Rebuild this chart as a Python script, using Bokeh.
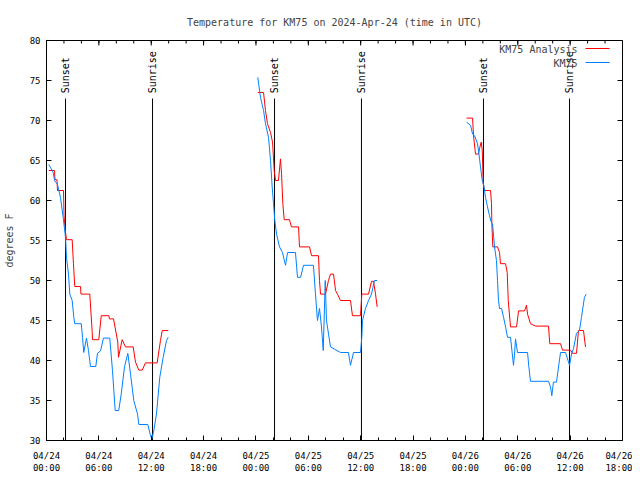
import math
from bokeh.plotting import figure
from bokeh.models import Range1d, FixedTicker, Label, Arrow
from bokeh.embed import file_html
from bokeh.resources import INLINE
from bokeh.core.properties import value

FONT = "DejaVu Sans Mono"
NAN = float("nan")

# ---- data (hours since 2024-04-24 00:00 UTC, degrees F) ----
analysis_h1 = [0.26, 0.92, 0.97, 1.20, 1.26, 1.95, 2.01, 2.18, 2.29, 2.94, 3.09, 3.24, 3.90, 3.95, 4.96, 5.24, 5.27, 5.99, 6.27, 7.14, 7.22, 7.68, 8.17, 8.25, 8.67, 9.05, 9.93, 10.20, 10.58, 10.97, 11.34, 12.68, 13.06, 13.26, 13.95]
analysis_t1 = [63.75, 63.75, 62.6, 62.6, 61.25, 61.25, 58.1, 56.0, 55.1, 55.1, 52.1, 49.25, 49.25, 48.3, 48.3, 43.5, 42.6, 42.6, 45.6, 45.6, 45.2, 45.2, 42.3, 40.4, 42.6, 41.7, 41.7, 39.8, 38.8, 38.8, 39.7, 39.7, 42.5, 43.75, 43.75]
analysis_h2 = [24.21, 24.87, 25.09, 25.32, 25.67, 25.90, 26.09, 26.24, 26.58, 26.81, 26.93, 27.08, 27.24, 27.84, 28.07, 28.88, 28.99, 30.14, 30.37, 31.17, 31.28, 31.40, 31.97, 32.31, 32.54, 32.89, 33.12, 33.34, 33.69, 34.83, 35.06, 35.98, 36.13, 36.90, 37.24, 37.47, 37.70, 37.89]
analysis_t2 = [73.5, 73.5, 71.25, 69.6, 68.5, 67.3, 63.75, 62.5, 62.5, 65.2, 63.4, 59.6, 57.6, 57.6, 56.7, 56.7, 54.2, 54.2, 53.1, 53.1, 50.0, 48.3, 48.3, 50.0, 50.8, 50.8, 48.75, 48.3, 47.5, 47.5, 45.6, 45.6, 48.3, 48.3, 49.9, 49.9, 48.3, 46.7]
analysis_h3 = [48.13, 48.82, 48.93, 49.16, 49.50, 49.62, 49.81, 49.93, 50.04, 50.19, 50.88, 50.99, 51.03, 51.14, 51.68, 51.91, 52.02, 52.60, 52.79, 52.91, 53.17, 53.86, 54.09, 54.77, 55.00, 55.12, 55.46, 56.03, 57.52, 57.67, 58.90, 59.13, 60.04, 60.27, 60.73, 60.96, 61.53, 61.76]
analysis_t3 = [70.3, 70.3, 68.1, 65.8, 65.8, 66.5, 67.3, 66.25, 62.1, 61.25, 61.25, 59.6, 57.1, 54.2, 54.2, 53.5, 52.1, 52.1, 51.0, 47.5, 44.2, 44.2, 46.2, 46.2, 46.9, 45.8, 44.6, 44.3, 44.3, 42.1, 42.1, 41.3, 41.3, 40.9, 40.9, 43.75, 43.75, 41.7]

obs_h1 = [0.26, 0.77, 0.92, 1.26, 1.60, 1.91, 2.18, 2.29, 2.52, 2.67, 2.94, 3.13, 3.24, 3.98, 4.13, 4.27, 4.58, 4.81, 5.04, 5.65, 5.84, 6.19, 6.53, 7.25, 7.56, 7.87, 8.28, 8.56, 8.94, 9.32, 9.63, 10.00, 10.43, 10.58, 11.61, 11.92, 12.07, 12.30, 12.60, 12.98, 13.37, 13.75, 13.95]
obs_t1 = [64.5, 63.5, 62.5, 62.0, 60.4, 57.9, 55.4, 52.9, 50.8, 48.3, 47.5, 45.4, 44.6, 44.6, 42.9, 41.0, 42.8, 41.25, 39.25, 39.25, 40.9, 41.2, 42.8, 42.8, 38.75, 33.75, 33.75, 35.8, 39.2, 40.9, 38.3, 35.0, 33.3, 32.0, 32.0, 30.6, 30.2, 31.25, 33.3, 37.9, 40.4, 42.5, 42.9]
obs_h2 = [24.21, 24.52, 24.87, 25.09, 25.44, 25.67, 25.86, 26.01, 26.16, 26.36, 26.70, 27.04, 27.39, 27.62, 28.53, 28.76, 29.11, 29.45, 30.59, 30.82, 31.05, 31.28, 31.51, 31.71, 31.94, 32.08, 32.54, 33.69, 34.60, 34.83, 35.18, 35.98, 36.13, 36.21, 36.55, 36.90, 37.24, 37.58, 37.89]
obs_t2 = [75.4, 72.9, 71.25, 69.6, 67.9, 65.0, 61.7, 59.6, 57.5, 55.8, 54.2, 53.5, 51.9, 53.5, 53.5, 50.4, 50.4, 51.9, 51.9, 48.3, 45.0, 46.5, 44.2, 41.25, 50.0, 45.0, 41.7, 41.0, 41.0, 39.4, 41.0, 41.0, 42.9, 45.0, 46.5, 47.5, 48.3, 50.0, 50.0]
obs_h3 = [48.13, 48.59, 48.82, 49.05, 49.39, 49.62, 49.73, 49.93, 50.11, 50.30, 50.53, 50.76, 50.96, 51.11, 51.34, 51.56, 51.68, 51.79, 51.91, 52.14, 52.37, 52.60, 52.83, 53.17, 53.51, 53.63, 53.74, 53.97, 55.12, 55.27, 55.46, 57.52, 57.75, 57.90, 58.09, 58.44, 58.67, 58.90, 59.47, 59.70, 59.93, 60.16, 60.39, 60.73, 61.07, 61.30, 61.64, 61.84]
obs_t3 = [69.8, 69.4, 68.3, 68.1, 67.1, 65.2, 64.2, 62.5, 61.9, 60.4, 59.2, 58.1, 57.3, 57.1, 54.2, 52.5, 50.0, 47.5, 46.5, 46.5, 45.4, 44.2, 42.9, 42.9, 39.4, 40.8, 42.7, 41.0, 41.0, 39.2, 37.4, 37.4, 36.7, 35.6, 37.3, 37.3, 39.2, 41.0, 41.0, 40.2, 39.4, 40.8, 41.5, 43.4, 43.75, 45.4, 47.9, 48.3]

sunset_h = [2.18, 26.13, 50.07]
sunrise_h = [12.15, 36.09, 59.93]

x_ticks = [0, 6, 12, 18, 24, 30, 36, 42, 48, 54, 60, 66]
x_tick_labels = ["04/24\n00:00", "04/24\n06:00", "04/24\n12:00", "04/24\n18:00",
                 "04/25\n00:00", "04/25\n06:00", "04/25\n12:00", "04/25\n18:00",
                 "04/26\n00:00", "04/26\n06:00", "04/26\n12:00", "04/26\n18:00"]
x_minor = [0, 2, 4, 6, 8, 10, 12, 14, 16, 18, 20, 22, 24, 26, 28, 30, 32, 34, 36, 38, 40, 42, 44, 46, 48, 50, 52, 54, 56, 58, 60, 62, 64, 66]
y_ticks = [30, 35, 40, 45, 50, 55, 60, 65, 70, 75, 80]

X0, X1, Y0, Y1 = 0, 66, 30, 80
PX_PER_H = 576 / (X1 - X0)
PX_PER_DEG = 400 / (Y1 - Y0)

# ---- build ----
def join(*parts):
    out = []
    for i, p_ in enumerate(parts):
        if i:
            out.append(NAN)
        out.extend(p_)
    return out

analysis_x = join(analysis_h1, analysis_h2, analysis_h3)
analysis_y = join(analysis_t1, analysis_t2, analysis_t3)
obs_x = join(obs_h1, obs_h2, obs_h3)
obs_y = join(obs_t1, obs_t2, obs_t3)

p = figure(width=632, height=478, output_backend="svg", toolbar_location=None,
           x_range=Range1d(X0, X1), y_range=Range1d(Y0, Y1),
           min_border_left=46, min_border_right=10, min_border_top=40, min_border_bottom=38,
           title="Temperature for KM75 on 2024-Apr-24 (time in UTC)")
p.title.align = "center"
p.title.text_font = FONT
p.title.text_font_size = "10px"
p.title.text_font_style = "normal"
p.title.standoff = 26
p.grid.visible = False
p.outline_line_color = "black"
p.outline_line_alpha = 1
p.background_fill_color = "white"
p.border_fill_color = "white"

xt = FixedTicker(ticks=x_ticks, minor_ticks=x_minor)
yt = FixedTicker(ticks=y_ticks, minor_ticks=[])

for ax in (p.xaxis[0], p.yaxis[0]):
    ax.axis_line_color = "black"
    ax.major_tick_line_color = "black"
    ax.minor_tick_line_color = "black"
    ax.major_tick_in = 5
    ax.major_tick_out = 0
    ax.minor_tick_in = 3
    ax.minor_tick_out = 0
    ax.major_label_text_font = FONT
    ax.major_label_text_color = "black"
    ax.major_label_text_font_size = "9px"
    ax.major_label_standoff = 6

p.xaxis.major_label_standoff = 10
p.xaxis.ticker = xt
p.yaxis.ticker = yt
p.xaxis.major_label_overrides = dict(zip(x_ticks, x_tick_labels))
p.yaxis.axis_label = "degrees F"
p.yaxis.axis_label_text_font = FONT
p.yaxis.axis_label_text_font_size = "10px"
p.yaxis.axis_label_text_font_style = "normal"
p.yaxis.axis_label_standoff = 12

# mirrored tick marks on top and right edges (gnuplot "mirror")
p.segment(x0=x_ticks, y0=Y1, x1=x_ticks, y1=Y1 - 5 / PX_PER_DEG, line_color="black", line_width=1)
p.segment(x0=x_minor, y0=Y1, x1=x_minor, y1=Y1 - 3 / PX_PER_DEG, line_color="black", line_width=1)
p.segment(x0=X1, y0=y_ticks, x1=X1 - 5 / PX_PER_H, y1=y_ticks, line_color="black", line_width=1)

# sunrise/sunset markers
p.segment(x0=sunset_h, y0=Y0, x1=sunset_h, y1=72.75, line_color="black", line_width=1)
p.segment(x0=sunrise_h, y0=Y0, x1=sunrise_h, y1=72.75, line_color="black", line_width=1)
p.text(x=sunset_h, y=73.4, text=value("Sunset"), angle=math.pi / 2,
       text_align="left", text_baseline="middle", text_font=value(FONT),
       text_font_size="10px", text_color="black")
p.text(x=sunrise_h, y=73.4, text=value("Sunrise"), angle=math.pi / 2,
       text_align="left", text_baseline="middle", text_font=value(FONT),
       text_font_size="10px", text_color="black")

p.line(analysis_x, analysis_y, line_color="#ff0000", line_width=1)
p.line(obs_x, obs_y, line_color="#0080ff", line_width=1)

# legend (gnuplot style: text then sample line)
p.add_layout(Label(x=60.85, y=78.9, text="KM75 Analysis", text_align="right",
                   text_baseline="middle", text_font=FONT, text_font_size="10px"))
p.add_layout(Label(x=60.85, y=77.15, text="KM75", text_align="right",
                   text_baseline="middle", text_font=FONT, text_font_size="10px"))
p.add_layout(Arrow(x_start=61.76, y_start=79.0, x_end=64.51, y_end=79.0, end=None,
                   line_color="#ff0000", line_width=1))
p.add_layout(Arrow(x_start=61.76, y_start=77.25, x_end=64.51, y_end=77.25, end=None,
                   line_color="#0080ff", line_width=1))

open("out.html", "w").write(file_html(p, INLINE))
